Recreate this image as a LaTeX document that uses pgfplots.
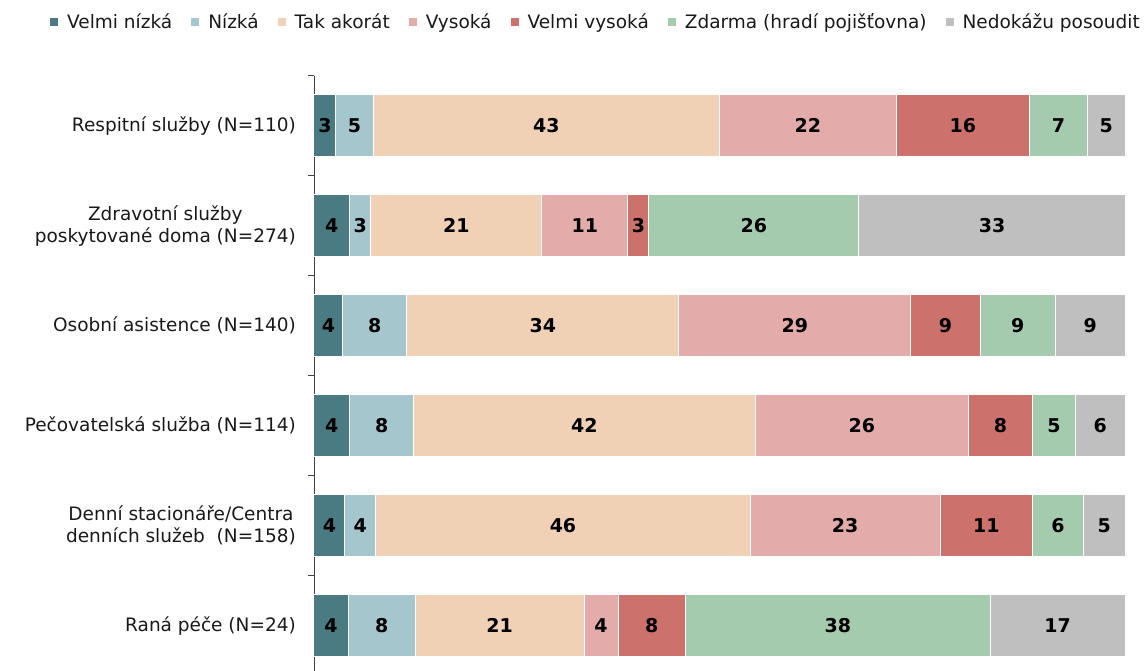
\documentclass[border=0pt]{standalone}
\usepackage{fontspec}
\setmainfont{DejaVu Sans}
\usepackage{pgfplots}
\pgfplotsset{compat=1.18}
\usepackage{pgfplotstable}

\definecolor{cVN}{RGB}{74,123,131}
\definecolor{cN}{RGB}{165,198,205}
\definecolor{cTA}{RGB}{241,209,181}
\definecolor{cV}{RGB}{227,171,170}
\definecolor{cVV}{RGB}{205,113,109}
\definecolor{cZ}{RGB}{165,203,174}
\definecolor{cNP}{RGB}{191,191,191}
\definecolor{axgray}{RGB}{64,64,64}

\pgfplotstableread{
cat vn   n    ta    v     vv   z    nep
0   2.7  4.6  42.7  21.8  16.4 7.2  4.6
1   4.4  2.6  21.1  10.6  2.6  25.9 32.8
2   3.57 7.86 33.57 28.57 8.57 9.29 8.57
3   4.4  7.9  42.1  26.3  7.9  5.3  6.1
4   3.8  3.8  46.2  23.4  11.4 6.3  5.1
5   4.2  8.3  20.8  4.2   8.3  37.6 16.6
}\datatable

\begin{document}
\begin{tikzpicture}
\begin{axis}[
  at={(0pt,0pt)}, anchor=south west,
  scale only axis,
  width=811pt, height=600pt,
  xbar stacked,
  bar width=62pt,
  xmin=0, xmax=100,
  ymin=-0.5, ymax=5.5,
  y dir=reverse,
  axis x line=none,
  axis y line*=left,
  axis line style={axgray, line width=0.9pt},
  ytick={0,1,2,3,4,5},
  yticklabels={{Respitní služby (N=110)},{Zdravotní služby\\poskytované doma (N=274)},{Osobní asistence (N=140)},{Pečovatelská služba (N=114)},{Denní stacionáře/Centra\\denních služeb\ \ (N=158)},{Raná péče (N=24)}},
  yticklabel style={font=\fontsize{18.5}{22}\selectfont, align=center, inner xsep=0pt, xshift=-18pt, text=black!90},
  major tick length=0pt,
  minor ytick={-0.5,0.5,1.5,2.5,3.5,4.5,5.5},
  minor tick length=6pt,
  tick align=outside,
  minor tick style={axgray, line width=0.9pt},
  clip=false,
  point meta=explicit symbolic,
  nodes near coords={\pgfmathprintnumber[fixed,precision=0,assume math mode=true]{\pgfplotspointmeta}},
  every node near coord/.append style={font=\fontsize{19}{22}\selectfont\bfseries, text=black, anchor=center},
  legend columns=-1,
  legend style={at={(1.021,1.0895)}, anchor=east, draw=none, fill=none, inner sep=0pt,
    font=\fontsize{18.5}{22}\selectfont, text=black!90,
    /tikz/every odd column/.append style={column sep=7pt},
    /tikz/every even column/.append style={column sep=17pt}},
  legend image code/.code={\fill[#1, draw=none] (0pt,-4pt) rectangle (8pt,4pt);},
  every axis plot/.append style={draw=white, line width=1pt},
]
\addplot[fill=cVN] table[x=vn, y=cat, meta=vn] {\datatable};
\addplot[fill=cN] table[x=n, y=cat, meta=n] {\datatable};
\addplot[fill=cTA] table[x=ta, y=cat, meta=ta] {\datatable};
\addplot[fill=cV] table[x=v, y=cat, meta=v] {\datatable};
\addplot[fill=cVV] table[x=vv, y=cat, meta=vv] {\datatable};
\addplot[fill=cZ] table[x=z, y=cat, meta=z] {\datatable};
\addplot[fill=cNP] table[x=nep, y=cat, meta=nep] {\datatable};
\legend{Velmi nízká,Nízká,Tak akorát,Vysoká,Velmi vysoká,Zdarma (hradí pojišťovna),Nedokážu posoudit}
\end{axis}
\pgfresetboundingbox
\path[use as bounding box] (-314pt,5.7pt) rectangle (832pt,675.7pt);
\end{tikzpicture}
\end{document}
